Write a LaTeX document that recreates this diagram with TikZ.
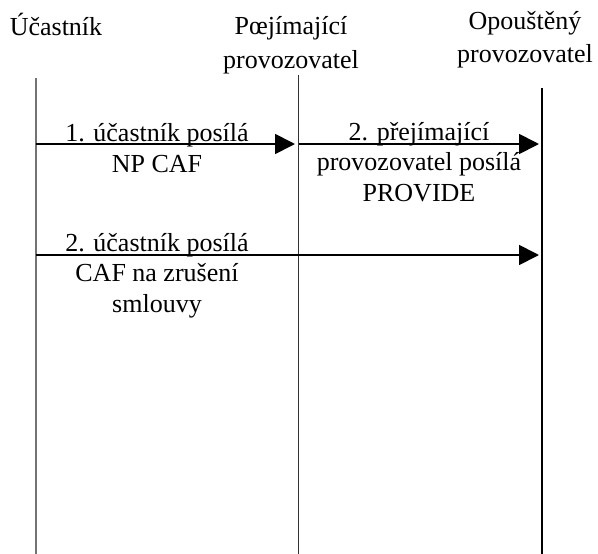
\documentclass[tikz,border=0pt]{standalone}
\usepackage{fontspec}
\setmainfont{Liberation Serif}
\usetikzlibrary{arrows.meta}
\begin{document}
\begin{tikzpicture}[x=1pt,y=-1pt,
  lbl/.style={inner sep=0pt,anchor=base,align=center,font=\fontsize{26}{30.5}\selectfont},
  hdr/.style={inner sep=0pt,anchor=base,align=center,font=\fontsize{26}{34}\selectfont},
  life/.style={line width=1.5pt},
  msg/.style={line width=1.8pt,-{Triangle[length=20pt,width=20pt]}}]
\useasboundingbox (0,0) rectangle (598,554);
% headers (anchor = baseline of last line)
\node[hdr] (hA) at (56,35) {Účastník};
\node[hdr] (hB) at (291,68) {Pœjímající\\provozovatel};
\node[hdr] (hC) at (525,63) {Opouštěný\\provozovatel};
% lifelines
\coordinate (aTop) at (36,78);  \coordinate (aBot) at (36,554);
\coordinate (bTop) at (298.5,75); \coordinate (bBot) at (298.5,554);
\coordinate (cTop) at (542,88); \coordinate (cBot) at (542,554);
\draw[life,black!55] (aTop) -- (aBot);
\draw[life,black!80] (bTop) -- (bBot);
\draw[life,black] (cTop) -- (cBot);
% message end points
\coordinate (m1s) at (36,144);  \coordinate (m1e) at (295,144);
\coordinate (m2s) at (298.5,144); \coordinate (m2e) at (539,144);
\coordinate (m3s) at (36,255);  \coordinate (m3e) at (539,255);
\draw[msg] (m1s) -- (m1e);
\draw[msg] (m2s) -- (m2e);
\draw[msg] (m3s) -- (m3e);
% labels (anchor = baseline of last line)
\node[lbl] (l1) at (157,172) {1. účastník posílá\\NP CAF};
\node[lbl] (l2) at (419,201) {2. přejímající\\provozovatel posílá\\PROVIDE};
\node[lbl] (l3) at (157,312) {2. účastník posílá\\CAF na zrušení\\smlouvy};
\end{tikzpicture}
\end{document}
